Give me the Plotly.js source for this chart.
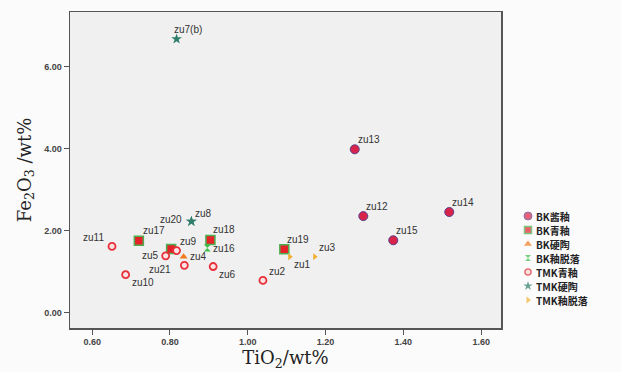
<!DOCTYPE html>
<html>
<head>
<meta charset="utf-8">
<script src="https://cdn.plot.ly/plotly-3.0.1.min.js"></script>
<style>html,body{margin:0;padding:0;background:#fbfbfb;}#chart{width:621px;height:372px;}</style>
</head>
<body>
<div id="chart"></div>
<script>
// ---- data ----
const seriesNames = ['BK酱釉','BK青釉','BK硬陶','BK釉脱落','TMK青釉','TMK硬陶','TMK釉脱落'];

const bkJiangLabels = ['zu13','zu12','zu14','zu15'];
const bkJiangTi = [1.275, 1.297, 1.518, 1.374];
const bkJiangFe = [3.99, 2.36, 2.46, 1.77];

const bkQingLabels = ['zu17','','zu18','zu19'];
const bkQingTi = [0.720, 0.803, 0.904, 1.094];
const bkQingFe = [1.76, 1.56, 1.78, 1.55];

const bkYingLabels = ['zu4'];
const bkYingTi = [0.835];
const bkYingFe = [1.37];

const bkTuoLabels = ['zu16'];
const bkTuoTi = [0.896];
const bkTuoFe = [1.58];

const tmkQingLabels = ['zu11','zu10','zu9','zu5','zu21','zu6','zu2'];
const tmkQingTi = [0.651, 0.686, 0.817, 0.789, 0.837, 0.911, 1.039];
const tmkQingFe = [1.62, 0.93, 1.52, 1.39, 1.16, 1.13, 0.79];

const tmkYingLabels = ['zu7(b)','zu8','zu20'];
const tmkYingTi = [0.817, 0.855, 0.855];
const tmkYingFe = [6.68, 2.23, 2.23];

const tmkTuoLabels = ['zu1','zu3'];
const tmkTuoTi = [1.108, 1.172];
const tmkTuoFe = [1.37, 1.37];

const xTickVals = [0.6, 0.8, 1.0, 1.2, 1.4, 1.6];
const yTickVals = [0, 2, 4, 6];

// ---- styles ----
const markerStyles = [
  {symbol:'circle', size:9, color:'#d8234a', line:{color:'#5b3f8c', width:1}},
  {symbol:'square', size:9, color:'#e5222a', line:{color:'#4caf50', width:1.5}},
  {symbol:'triangle-up', size:7, color:'#f07a1e', line:{width:0}},
  {symbol:'hourglass', size:7, color:'#3fbf4a', line:{width:0}},
  {symbol:'circle', size:7, color:'#fbe3e3', line:{color:'#e8303a', width:1.8}},
  {symbol:'star', size:8, color:'#2f7d6b', line:{width:0}},
  {symbol:'triangle-right', size:6, color:'#f0b030', line:{width:0}}
];
const legendSizes = [8, 7, 7, 6, 6, 7, 6];
// label offsets in pixels: [xshift, yshift, xanchor]
const labelOffsets = {
  'zu13':[2,10,'left'],'zu12':[2,10,'left'],'zu14':[2,10,'left'],'zu15':[2,10,'left'],
  'zu17':[3,10,'left'],'zu18':[2,10,'left'],'zu19':[2,10,'left'],
  'zu4':[5,0,'left'],'zu16':[5,0,'left'],
  'zu11':[-7,9,'right'],'zu10':[5,-8,'left'],'zu9':[2,9,'left'],'zu5':[-6,0,'right'],
  'zu21':[-12,-4,'right'],'zu6':[5,-8,'left'],'zu2':[5,9,'left'],
  'zu7(b)':[-4,10,'left'],'zu8':[3,8,'left'],'zu20':[-8,2,'right'],
  'zu1':[3,-8,'left'],'zu3':[3,9,'left']
};

const groups = [
  [bkJiangTi,bkJiangFe,bkJiangLabels],
  [bkQingTi,bkQingFe,bkQingLabels],
  [bkYingTi,bkYingFe,bkYingLabels],
  [bkTuoTi,bkTuoFe,bkTuoLabels],
  [tmkQingTi,tmkQingFe,tmkQingLabels],
  [tmkYingTi,tmkYingFe,tmkYingLabels],
  [tmkTuoTi,tmkTuoFe,tmkTuoLabels]
];

const traces = groups.map((g,i)=>({
  type:'scatter', mode:'markers', name:seriesNames[i],
  x:g[0], y:g[1], text:g[2], hoverinfo:'text+x+y',
  marker:markerStyles[i], showlegend:false
}));

// compact legend drawn on its own axes (series index -> row)
traces.push({
  type:'scatter', mode:'markers', xaxis:'x2', yaxis:'y2',
  x:seriesNames.map(()=>0), y:seriesNames.map((_,i)=>i),
  marker:{symbol:markerStyles.map(m=>m.symbol), size:legendSizes,
    color:markerStyles.map(m=>m.color),
    line:{color:markerStyles.map(m=>m.line.color||'rgba(0,0,0,0)'), width:markerStyles.map(m=>Math.min(m.line.width||0,1.5))}},
  showlegend:false, hoverinfo:'skip', cliponaxis:false
});

const annotations = [];
groups.forEach(g=>{
  g[2].forEach((lab,j)=>{
    if(!lab) return;
    const o = labelOffsets[lab] || [2,10,'left'];
    annotations.push({x:g[0][j], y:g[1][j], xref:'x', yref:'y', text:lab, showarrow:false,
      xanchor:o[2], yanchor:'middle', xshift:o[0], yshift:o[1], borderpad:0,
      font:{family:'Liberation Sans, Arial, sans-serif', size:10, color:'#333'}});
  });
});
seriesNames.forEach((n,i)=>{
  annotations.push({x:0, y:i, xref:'x2', yref:'y2', text:'<b>'+n+'</b>', showarrow:false,
    xanchor:'left', yanchor:'middle', xshift:7, borderpad:0,
    font:{family:'Noto Sans CJK SC, sans-serif', size:10, color:'#222'}});
});

const axisFont = {family:'Liberation Sans, Arial, sans-serif', size:9, color:'#444', weight:'bold'};
const titleFont = {family:'DejaVu Serif, serif', size:18, color:'#222'};

const layout = {
  width:621, height:372,
  margin:{l:70, r:0, t:12, b:44},
  paper_bgcolor:'#fbfbfb', plot_bgcolor:'rgba(0,0,0,0)',
  showlegend:false,
  shapes:[{type:'rect', xref:'x domain', yref:'y domain', x0:0, x1:1, y0:0, y1:1,
    fillcolor:'#f0f0f0', line:{width:0}, layer:'below'}],
  xaxis:{domain:[0, 431/551], range:[0.543,1.651], tickvals:xTickVals, tickformat:'.2f',
    showline:true, linecolor:'#555', linewidth:1.5, mirror:true,
    ticks:'outside', ticklen:5, tickcolor:'#555', showgrid:false, zeroline:false,
    tickfont:axisFont,
    title:{text:'TiO<sub>2</sub>/wt%', standoff:4, font:titleFont}},
  yaxis:{range:[-0.37,7.34], tickvals:yTickVals, tickformat:'.2f',
    showline:true, linecolor:'#555', linewidth:1.5, mirror:true,
    ticks:'outside', ticklen:5, tickcolor:'#555', showgrid:false, zeroline:false,
    tickfont:axisFont,
    title:{text:'Fe<sub>2</sub>O<sub>3</sub> /wt%', standoff:8, font:titleFont}},
  xaxis2:{domain:[0.80,1], range:[-17.2,93], visible:false, fixedrange:true},
  yaxis2:{domain:[0,1], anchor:'x2', range:[8.0,-14.571], visible:false, fixedrange:true},
  annotations:annotations
};

Plotly.newPlot('chart', traces, layout, {displayModeBar:false, staticPlot:true});
</script>
</body>
</html>
